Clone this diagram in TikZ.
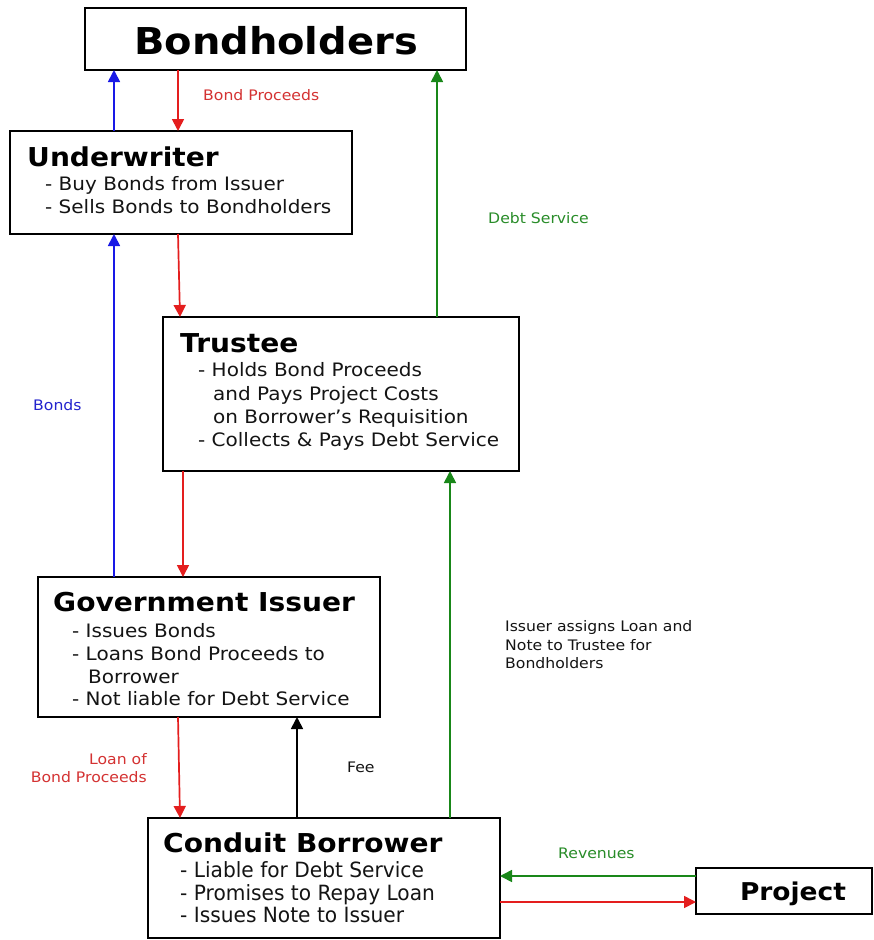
\documentclass[tikz,border=0pt]{standalone}
\usepackage{fontspec}
\setmainfont{DejaVu Sans}[FakeStretch=1.08]
\newfontfamily\condfont{DejaVu Sans}[FakeStretch=0.96]
\usetikzlibrary{arrows.meta}
\definecolor{cred}{RGB}{228,30,30}
\definecolor{cblue}{RGB}{25,25,230}
\definecolor{cgreen}{RGB}{25,135,25}
\definecolor{lred}{RGB}{212,50,50}
\definecolor{lgreen}{RGB}{40,140,40}
\definecolor{lblue}{RGB}{35,35,205}
\definecolor{btext}{RGB}{20,20,20}
\begin{document}
\begin{tikzpicture}[x=1pt,y=-1pt,
  box/.style={draw=black, line width=2.6pt, fill=white, inner sep=0pt, outer sep=0pt, anchor=north west},
  title/.style={anchor=base west, inner sep=0pt, font=\bfseries\fontsize{26}{28}\selectfont},
  body/.style={anchor=base west, inner sep=0pt, text=btext, font=\fontsize{18.5}{20}\selectfont},
  cbody/.style={anchor=base west, inner sep=0pt, text=btext, font=\condfont\fontsize{21}{22}\selectfont},
  lab/.style={anchor=base west, inner sep=0pt, font=\fontsize{14.5}{16}\selectfont},
  flow/.style={line width=1.7pt, -{Triangle[length=12pt,width=12pt]}}]
\useasboundingbox (0,0) rectangle (874,940);
\fill[white] (0,0) rectangle (874,940);

% boxes
\node[box, minimum width=381pt, minimum height=62pt] (bh) at (85,8) {};
\node[box, minimum width=342pt, minimum height=103pt] (uw) at (10,131) {};
\node[box, minimum width=356pt, minimum height=154pt] (tr) at (163,317) {};
\node[box, minimum width=342pt, minimum height=140pt] (gi) at (38,577) {};
\node[box, minimum width=352pt, minimum height=120pt] (cb) at (148,818) {};
\node[box, minimum width=176pt, minimum height=46pt] (pj) at (696,868) {};

% texts in boxes
\node[anchor=base, inner sep=0pt, font=\bfseries\fontsize{37}{40}\selectfont] (bht) at (276,54) {Bondholders};

\node[title] (uwt) at (27,166) {Underwriter};
\node[body] (uw1) at (45,190) {- Buy Bonds from Issuer};
\node[body] (uw2) at (45,213) {- Sells Bonds to Bondholders};

\node[title] (trt) at (180,352) {Trustee};
\node[body] (tr1) at (198,376) {- Holds Bond Proceeds};
\node[body] (tr2) at (213,400) {and Pays Project Costs};
\node[body] (tr3) at (213,423) {on Borrower’s Requisition};
\node[body] (tr4) at (198,446) {- Collects \& Pays Debt Service};

\node[title] (git) at (53,611) {Government Issuer};
\node[body] (gi1) at (72,637) {- Issues Bonds};
\node[body] (gi2) at (72,660) {- Loans Bond Proceeds to};
\node[body] (gi3) at (88,683) {Borrower};
\node[body] (gi4) at (72,705) {- Not liable for Debt Service};

\node[title] (cbt) at (163,852) {Conduit Borrower};
\node[cbody] (cb1) at (180,877) {- Liable for Debt Service};
\node[cbody] (cb2) at (180,900) {- Promises to Repay Loan};
\node[cbody] (cb3) at (180,922) {- Issues Note to Issuer};

\node[anchor=base, inner sep=0pt, font=\bfseries\fontsize{24.5}{28}\selectfont] (pjt) at (793,900) {Project};

% connectors
\draw[flow, cblue] (uw.north -| 114,0) -- (bh.south -| 114,0);
\draw[flow, cred] (bh.south -| 178,0) -- (uw.north -| 178,0);
\draw[flow, cblue] (gi.north -| 114,0) -- (uw.south -| 114,0);
\draw[flow, cred] (uw.south -| 178,0) -- (tr.north -| 180,0);
\draw[flow, cgreen] (tr.north -| 437,0) -- (bh.south -| 437,0);
\draw[flow, cred] (tr.south -| 183,0) -- (gi.north -| 183,0);
\draw[flow, cred] (gi.south -| 178,0) -- (cb.north -| 180,0);
\draw[flow, black] (cb.north -| 297,0) -- (gi.south -| 297,0);
\draw[flow, cgreen] (cb.north -| 450,0) -- (tr.south -| 450,0);
\draw[flow, cgreen] (pj.west |- 0,876) -- (cb.east |- 0,876);
\draw[flow, cred] (cb.east |- 0,902) -- (pj.west |- 0,902);

% connector labels
\node[lab, text=lred] (lbp) at (203,100) {Bond Proceeds};
\node[lab, text=lgreen] (lds) at (488,223) {Debt Service};
\node[lab, text=lblue] (lbo) at (33,410) {Bonds};
\node[lab, text=lred, anchor=base east] (llo1) at (147,764) {Loan of};
\node[lab, text=lred, anchor=base east] (llo2) at (147,782) {Bond Proceeds};
\node[lab, text=btext] (lfee) at (347,772) {Fee};
\node[lab, text=btext] (lia1) at (505,631) {Issuer assigns Loan and};
\node[lab, text=btext] (lia2) at (505,650) {Note to Trustee for};
\node[lab, text=btext] (lia3) at (505,668) {Bondholders};
\node[lab, text=lgreen] (lrev) at (558,858) {Revenues};
\end{tikzpicture}
\end{document}
